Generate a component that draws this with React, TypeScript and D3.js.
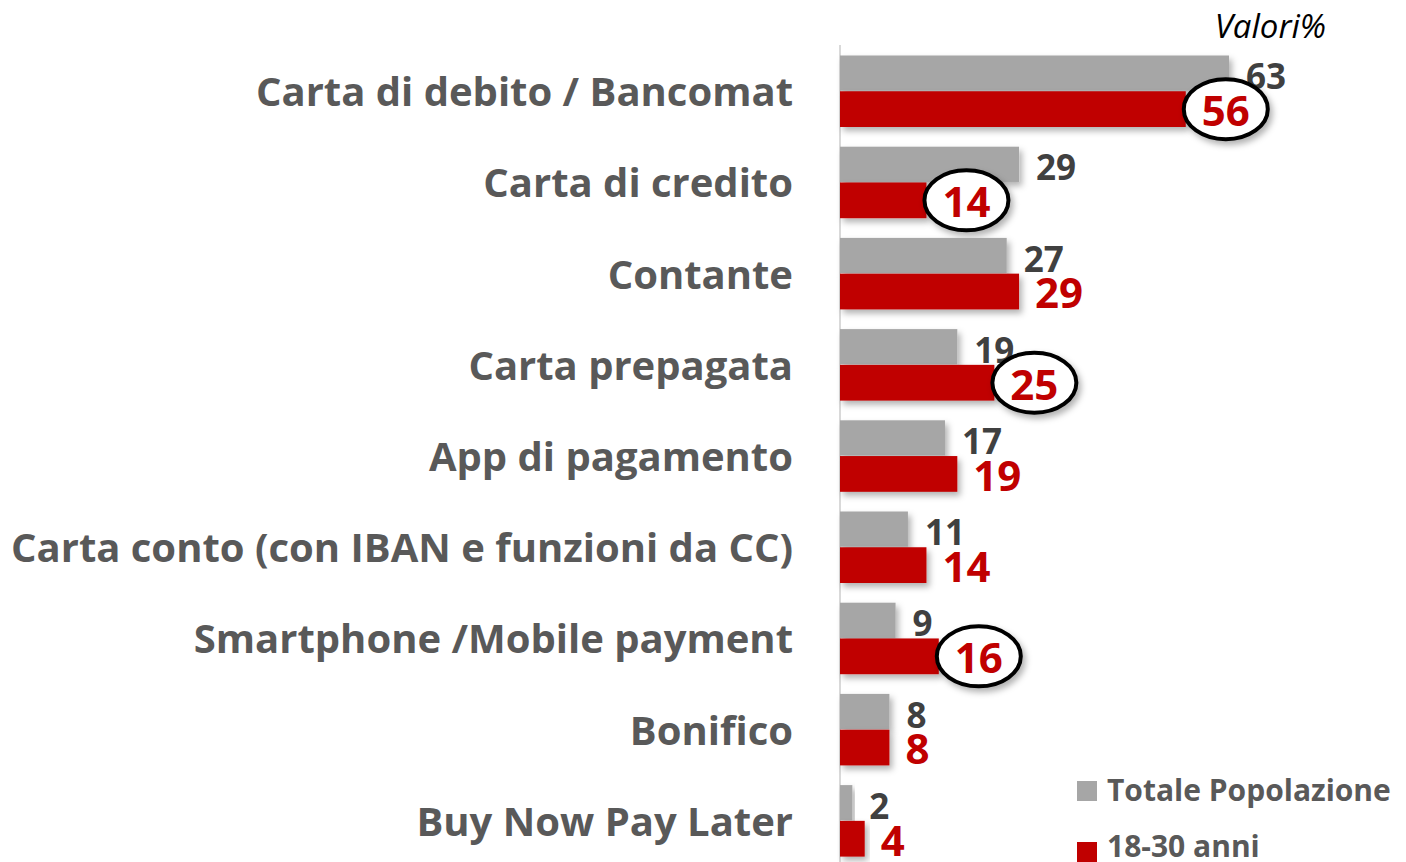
import React from 'react';
import * as d3 from 'd3';

const categories = [
  'Carta di debito / Bancomat',
  'Carta di credito',
  'Contante',
  'Carta prepagata',
  'App di pagamento',
  'Carta conto (con IBAN e funzioni da CC)',
  'Smartphone /Mobile payment',
  'Bonifico',
  'Buy Now Pay Later',
];
const totale = [63, 29, 27, 19, 17, 11, 9, 8, 2];
const giovani = [56, 14, 29, 25, 19, 14, 16, 8, 4];
const circled = ['Carta di debito / Bancomat', 'Carta di credito', 'Carta prepagata', 'Smartphone /Mobile payment'];
const seriesNames = ['Totale Popolazione', '18-30 anni'];

const W = 1406, H = 862;
const FONT = '"Open Sans", sans-serif';
const GRAY = '#a6a6a6', RED = '#c00000';

export default function App() {
  // x scale: 0 starts at the axis line
  const x = d3.scaleLinear().domain([0, 63]).range([840, 1229]);
  const y = d3.scaleBand<string>().domain(categories)
    .range([45.65, 866.45]).paddingInner(0.216).paddingOuter(0.108);
  const inner = d3.scaleBand<string>().domain(['tot', 'gio']).range([0, y.bandwidth()]);
  const bh = inner.bandwidth();

  return (
    <svg width={W} height={H} style={{ position: 'absolute', left: 0, top: 0, background: '#fff' }}>
      <defs>
        <filter id="sh" x="-10%" y="-20%" width="130%" height="160%">
          <feDropShadow dx="3" dy="4" stdDeviation="3" floodColor="#000" floodOpacity="0.3" />
        </filter>
      </defs>
      <line x1={x(0)} x2={x(0)} y1={45} y2={H} stroke="#d9d9d9" strokeWidth={2} />
      <text x={1326} y={38} textAnchor="end" fontFamily={FONT} fontStyle="italic" fontSize={33} fill="#000">Valori%</text>
      {categories.map((c, i) => {
        const y0 = y(c)!;
        const yT = y0 + inner('tot')!;
        const yG = y0 + inner('gio')!;
        const isCircled = circled.includes(c);
        const redX = x(giovani[i]) + 16;
        return (
          <g key={c}>
            <text x={793} y={y0 + bh + 15} textAnchor="end" fontFamily={FONT} fontWeight="bold"
              fontSize={40} fill="#595959">{c}</text>
            <rect x={x(0)} y={yT} width={x(totale[i]) - x(0)} height={bh - 0.5} fill={GRAY} filter="url(#sh)" />
            <rect x={x(0)} y={yG} width={x(giovani[i]) - x(0)} height={bh} fill={RED} filter="url(#sh)" />
            <text x={x(totale[i]) + 17} y={yT + bh - 2} fontFamily={FONT} fontWeight="bold"
              fontSize={35} fill="#404040">{totale[i]}</text>
            {isCircled && (
              <ellipse cx={redX + 24} cy={yG + bh / 2} rx={42} ry={30} fill="#fff" stroke="#000"
                strokeWidth={4} filter="url(#sh)" />
            )}
            <text x={redX} y={yG + bh - 1} fontFamily={FONT} fontWeight="bold"
              fontSize={42} fill={RED}>{giovani[i]}</text>
          </g>
        );
      })}
      {seriesNames.map((s, i) => (
        <g key={s}>
          <rect x={1077} y={781 + i * 61} width={20} height={20} fill={i === 0 ? GRAY : RED} />
          <text x={1107} y={801 + i * 56} fontFamily={FONT} fontWeight="bold" fontSize={30} fill="#595959">{s}</text>
        </g>
      ))}
    </svg>
  );
}
